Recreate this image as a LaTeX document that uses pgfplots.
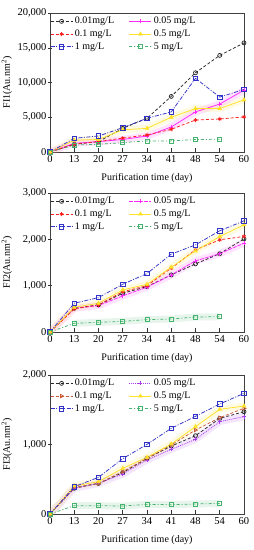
\documentclass[border=0pt]{standalone}
\usepackage{fontspec}
\setmainfont{Liberation Serif}
\usepackage{pgfplots}
\pgfplotsset{compat=1.18}

\definecolor{cBlk}{RGB}{40,40,40}
\definecolor{cMag}{RGB}{255,40,255}
\definecolor{cRed}{RGB}{250,30,30}
\definecolor{cYel}{RGB}{255,225,40}
\definecolor{cBlu}{RGB}{50,50,200}
\definecolor{cGrn}{RGB}{70,180,110}
\definecolor{cVio}{RGB}{170,60,240}
\definecolor{cBrn}{RGB}{200,90,60}

\pgfplotsset{
  panel/.style={
    scale only axis, width=194pt, height=139pt,
    xmin=0, xmax=8, xtick={0,...,8},
    xticklabels={0,13,20,27,34,41,48,54,60},
    scaled y ticks=false,
    tick pos=left, tick align=inside, major tick length=4pt,
    y tick style={xshift=-2pt},
    tick style={black!80, line width=0.5pt},
    axis line style={black!75, line width=0.5pt},
    /pgf/number format/1000 sep={,},
    /pgf/number format/assume math mode=true,
    tick label style={font=\fontsize{10.5}{12}\selectfont},
    label style={font=\fontsize{10}{12}\selectfont},
    xlabel={Purification time (day)},
    xlabel style={at={(axis description cs:0.5,-0.187)}, anchor=center},
    ylabel style={at={(axis description cs:-0.222,0.5)}, anchor=center},
    legend style={draw=none, fill=none, at={(0,0.985)}, anchor=north west,
      font=\fontsize{10}{10}\selectfont, inner sep=0pt, row sep=0.6pt,
      /tikz/every even column/.append style={column sep=13pt}},
    legend columns=2,
    legend cell align=left,
    legend image code/.code={\draw[mark repeat=2,mark phase=2,##1] plot coordinates {(0pt,0pt) (11pt,0pt) (22pt,0pt)};},
  },
  band/.style={line width=7pt, opacity=0.13, forget plot, no markers, line join=round, solid},
  s001/.style={cBlk, line width=0.75pt, dash pattern=on 3pt off 2pt, mark=o, mark size=2pt, mark options={solid, fill=white}},
  s005/.style={cMag, line width=0.75pt, solid, mark=+, mark size=2pt, mark options={solid}},
  s01/.style={cRed, line width=0.75pt, dash pattern=on 3pt off 2pt, mark=asterisk, mark size=2pt, mark options={solid}},
  s05/.style={cYel, line width=0.75pt, solid, mark=triangle*, mark size=2pt, mark options={solid}},
  s1/.style={cBlu, line width=0.75pt, dash pattern=on 4pt off 1.5pt on 1pt off 1.5pt, mark=square, mark size=2.2pt, mark options={solid, fill=white}},
  s5/.style={cGrn, line width=0.75pt, dash pattern=on 3pt off 2pt on 1pt off 2pt, mark=square, mark size=2pt, mark options={solid, fill=white}},
}

\begin{document}
\begin{tikzpicture}
\useasboundingbox (-50pt,-398pt) rectangle (204pt,152pt);

% ---------------- Panel 1
\begin{axis}[panel, at={(0pt,0pt)}, anchor=south west,
  ymin=0, ymax=20000, ytick={0,5000,10000,15000,20000},
  ylabel={FI1(Au.nm\textsuperscript{2})}]
\addplot[band, cMag] coordinates {(0,0)(1,1250)(2,1500)(3,1800)(4,2300)(5,3600)(6,5770)(7,6900)(8,8900)};
\addplot[band, cYel] coordinates {(0,0)(1,1700)(2,1800)(3,3200)(4,3400)(5,5000)(6,6250)(7,6250)(8,7500)};
\addplot[s001] coordinates {(0,0)(1,1100)(2,1500)(3,3400)(4,4850)(5,8000)(6,11400)(7,13900)(8,15700)};
\addlegendentry{0.01mg/L}
\addplot[s005] coordinates {(0,0)(1,1250)(2,1500)(3,1800)(4,2300)(5,3600)(6,5770)(7,6900)(8,8900)};
\addlegendentry{0.05 mg/L}
\addplot[s01] coordinates {(0,0)(1,1150)(2,1500)(3,2000)(4,2450)(5,3270)(6,4600)(7,4750)(8,5050)};
\addlegendentry{0.1 mg/L}
\addplot[s05] coordinates {(0,0)(1,1700)(2,1800)(3,3200)(4,3400)(5,5000)(6,6250)(7,6250)(8,7500)};
\addlegendentry{0.5 mg/L}
\addplot[s1] coordinates {(0,0)(1,1970)(2,2300)(3,3500)(4,4850)(5,5770)(6,10600)(7,7900)(8,9000)};
\addlegendentry{1 mg/L}
\addplot[s5] coordinates {(0,0)(1,1000)(2,1100)(3,1350)(4,1600)(5,1600)(6,1800)(7,1830)};
\addlegendentry{5 mg/L}
\end{axis}

% ---------------- Panel 2
\begin{axis}[panel, at={(0pt,-180pt)}, anchor=south west,
  ymin=0, ymax=3000, ytick={0,1000,2000,3000},
  ylabel={FI2(Au.nm\textsuperscript{2})}]
\addplot[band, cMag] coordinates {(0,0)(1,510)(2,570)(3,780)(4,966)(5,1233)(6,1535)(7,1690)(8,1918)};
\addplot[band, cYel] coordinates {(0,0)(1,533)(2,620)(3,908)(4,1030)(5,1400)(6,1750)(7,2060)(8,2314)};
\addplot[band, cGrn] coordinates {(1,187)(2,210)(3,230)(4,267)(5,281)(6,324)(7,330)};
\addplot[s001] coordinates {(0,0)(1,512)(2,584)(3,836)(4,980)(5,1233)(6,1470)(7,1690)(8,2010)};
\addlegendentry{0.01mg/L}
\addplot[s005, dash pattern=on 4pt off 1pt] coordinates {(0,0)(1,510)(2,570)(3,780)(4,966)(5,1233)(6,1535)(7,1690)(8,1918)};
\addlegendentry{0.05 mg/L}
\addplot[s01] coordinates {(0,0)(1,500)(2,584)(3,870)(4,1000)(5,1377)(6,1774)(7,1990)(8,2062)};
\addlegendentry{0.1 mg/L}
\addplot[s05] coordinates {(0,0)(1,533)(2,620)(3,908)(4,1030)(5,1400)(6,1750)(7,2060)(8,2314)};
\addlegendentry{0.5 mg/L}
\addplot[s1] coordinates {(0,0)(1,620)(2,743)(3,1030)(4,1262)(5,1680)(6,1880)(7,2185)(8,2400)};
\addlegendentry{1 mg/L}
\addplot[s5] coordinates {(0,0)(1,187)(2,210)(3,230)(4,267)(5,281)(6,324)(7,330)};
\addlegendentry{5 mg/L}
\end{axis}

% ---------------- Panel 3
\begin{axis}[panel, at={(0pt,-362pt)}, anchor=south west,
  ymin=0, ymax=2000, ytick={0,1000,2000},
  ylabel={FI3(Au.nm\textsuperscript{2})}]
\addplot[band, cVio] coordinates {(0,0)(1,370)(2,440)(3,575)(4,777)(5,930)(6,1074)(7,1330)(8,1400)};
\addplot[band, cYel] coordinates {(0,0)(1,403)(2,465)(3,657)(4,815)(5,1007)(6,1257)(7,1506)(8,1554)};
\addplot[band, cGrn] coordinates {(1,120)(2,120)(3,115)(4,139)(5,134)(6,144)(7,153)};
\addplot[s001] coordinates {(0,0)(1,370)(2,441)(3,595)(4,800)(5,978)(6,1127)(7,1376)(8,1472)};
\addlegendentry{0.01mg/L}
\addplot[s005, cVio, dash pattern=on 1pt off 1pt, mark=+] coordinates {(0,0)(1,370)(2,440)(3,575)(4,777)(5,930)(6,1074)(7,1330)(8,1400)};
\addlegendentry{0.05 mg/L}
\addplot[s01, cBrn, mark=triangle, mark options={solid, rotate=-90}] coordinates {(0,0)(1,383)(2,441)(3,610)(4,800)(5,993)(6,1208)(7,1386)(8,1520)};
\addlegendentry{0.1 mg/L}
\addplot[s05] coordinates {(0,0)(1,403)(2,465)(3,657)(4,815)(5,1007)(6,1257)(7,1506)(8,1554)};
\addlegendentry{0.5 mg/L}
\addplot[s1] coordinates {(0,0)(1,393)(2,528)(3,796)(4,1002)(5,1233)(6,1405)(7,1583)(8,1736)};
\addlegendentry{1 mg/L}
\addplot[s5] coordinates {(0,0)(1,120)(2,120)(3,115)(4,139)(5,134)(6,144)(7,153)};
\addlegendentry{5 mg/L}
\end{axis}
\end{tikzpicture}
\end{document}
